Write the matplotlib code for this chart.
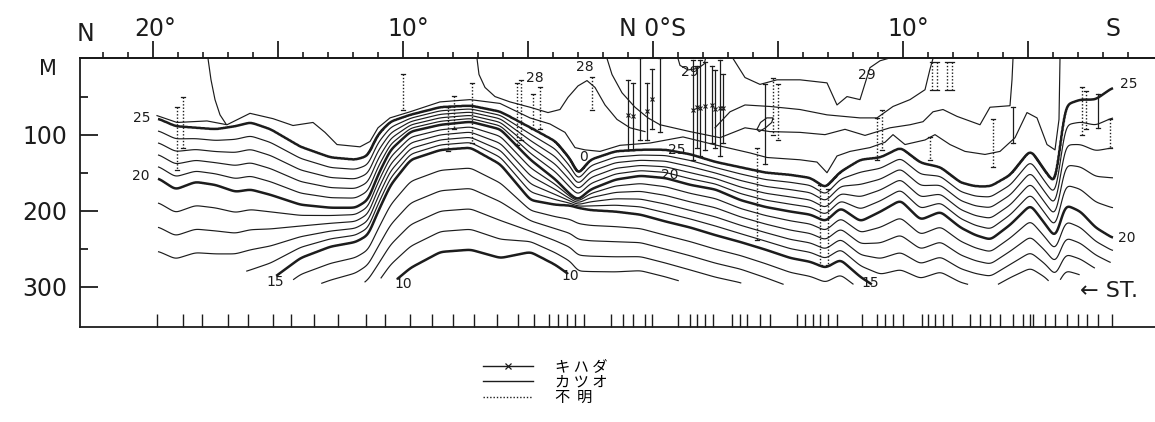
import numpy as np
import matplotlib
matplotlib.use("Agg")
import matplotlib.pyplot as plt
from matplotlib.lines import Line2D
from matplotlib import transforms

plt.rcParams['font.family'] = ['DejaVu Sans', 'Noto Sans CJK JP']

# ---------------- data ----------------
# station grid (latitude, + = N, - = S) and depth (m) of main isotherms
grid_lat = [19.8, 19.1, 18.3, 17.5, 16.7, 16.1, 15.3, 14.1, 12.9, 11.9,
            11.4, 11.0, 10.5, 9.7, 8.5, 7.3, 6.1, 4.9, 3.9, 3.3,
            3.0, 2.5, 1.5, 0.5, -0.5, -1.5, -2.5, -3.5, -4.5, -5.5,
            -6.3, -6.9, -7.5, -8.3, -9.1, -9.9, -10.7, -11.5, -12.3, -12.9,
            -13.5, -14.3, -15.1, -15.7, -16.1, -16.5, -17.1, -17.7, -18.4]
depth_25 = [79, 89, 91, 93, 89, 84, 93, 116, 130, 133,
            128, 100, 83, 74, 64, 62, 70, 91, 109, 133,
            153, 133, 122, 120, 120, 126, 136, 143, 150, 153,
            157, 170, 149, 133, 130, 117, 137, 143, 163, 168,
            168, 153, 120, 149, 166, 61, 54, 54, 38]
depth_20 = [157, 172, 162, 166, 175, 172, 179, 192, 196, 196,
            186, 153, 120, 96, 87, 83, 93, 133, 159, 179,
            186, 172, 159, 154, 157, 166, 172, 186, 195, 201,
            205, 214, 196, 214, 201, 186, 212, 201, 222, 232,
            238, 218, 192, 218, 236, 192, 201, 222, 236]
depth_15 = [317, 324, 317, 317, 311, 304, 291, 262, 247, 241,
            232, 201, 166, 133, 120, 117, 139, 186, 192, 193,
            196, 199, 201, 205, 214, 222, 232, 241, 251, 262,
            267, 275, 264, 287, 304, 300, 308, 300, 312, 316,
            318, 305, 296, 305, 318, 300, 305, 312, 320]
depth_10 = [422, 428, 422, 422, 416, 409, 396, 370, 357, 343,
            330, 317, 297, 275, 254, 251, 262, 254, 271, 285,
            300, 300, 300, 297, 305, 315, 324, 330, 343, 357,
            363, 370, 363, 370, 380, 375, 390, 380, 395, 400,
            405, 395, 385, 395, 405, 390, 395, 405, 415]
cast_depth = [280, 284, 278, 278, 278, 280, 284, 293, 297, 297,
              293, 290, 285, 300, 300, 300, 300, 300, 297, 280,
              282, 282, 284, 286, 291, 293, 293, 295, 297, 297,
              297, 297, 297, 297, 297, 293, 297, 293, 297, 297,
              297, 297, 293, 293, 291, 291, 284, 275, 267]

# upper (warm) isotherms traced individually
iso26_lat = [19.84, 19.04, 17.84, 17.04, 16.12, 15.2, 14.4, 13.6, 13.12, 12.64,
             11.72, 11.32, 11.0, 10.52, 9.72, 8.52, 7.32, 6.12, 4.92, 4.12,
             3.52, 3.12, 2.72, 2.12, 1.32, 0.12, -1.2, -2.56, -3.88, -4.56,
             -5.88, -6.56, -6.96, -7.36, -7.88, -8.68, -9.28, -9.6, -10.08, -10.88,
             -11.28, -11.88, -12.48, -13.28, -13.88, -14.48, -14.96, -15.36, -15.76, -16.08,
             -16.24, -16.28]
iso26_depth = [75, 84, 82, 87, 72, 79, 88, 84, 97, 113,
               116, 109, 91, 78, 70, 57, 54, 59, 78, 86,
               97, 117, 120, 122, 114, 111, 103, 114, 124, 130,
               133, 136, 150, 128, 122, 117, 110, 100, 113, 107,
               100, 113, 122, 126, 122, 104, 71, 78, 113, 120,
               80, 0]
iso27a_lat = [17.8, 17.68, 17.52, 17.32, 17.08]
iso27a_depth = [0, 28, 54, 74, 86]
iso27b_lat = [-0.28, -1.48, -2.68, -3.68, -4.68, -5.88, -6.88, -7.68, -8.48, -9.48,
              -10.28, -10.8, -11.2, -11.6, -12.16, -13.08, -13.48, -14.28, -14.36, -14.4]
iso27b_depth = [87, 96, 104, 91, 96, 97, 100, 93, 101, 91,
                87, 83, 70, 67, 76, 87, 64, 62, 28, 0]
iso27c_lat = [-4.16, -4.3, -4.55, -4.8, -4.75, -4.5, -4.25, -4.16]
iso27c_depth = [93, 84, 78, 78, 84, 91, 96, 93]
iso28a_lat = [7.04, 6.96, 6.72, 6.32, 5.72, 4.92, 4.2, 3.72, 3.4, 3.0,
              2.64, 2.32, 1.92, 1.44, 0.92, 0.32]
iso28a_depth = [0, 21, 38, 50, 57, 64, 71, 67, 51, 36,
                29, 38, 61, 80, 91, 96]
iso28b_lat = [1.84, 1.64, 1.24, 0.72, 0.2, -0.28]
iso28b_depth = [0, 21, 45, 64, 78, 87]
iso28c_lat = [-2.48, -3.08, -3.68, -4.68, -5.88, -6.96, -8.28, -8.96, -9.6, -10.28,
              -10.88, -11.08, -11.2]
iso28c_depth = [91, 70, 61, 63, 67, 74, 78, 78, 63, 54,
                41, 14, 0]
iso29a_lat = [-3.2, -3.68, -4.28, -4.96, -5.88, -6.96, -7.36, -7.76, -8.28, -8.68,
              -9.08, -9.4]
iso29a_depth = [0, 25, 34, 28, 28, 32, 61, 50, 54, 12,
                3, 0]
iso29b_lat = [-1.0, -1.08, -1.4, -1.8, -2.05, -2.1]
iso29b_depth = [0, 9, 15, 13, 7, 0]

# catch-depth markers: K = キハダ, S = カツオ, U = 不明
marker_lat = [19.04, 18.8, 10.0, 8.2, 7.96, 7.24, 5.44, 5.28, 4.8, 4.52,
              2.44, -4.8, -5.0, -8.96, -9.16, -11.16, -11.36, -11.76, -11.96, -11.08,
              -13.6, -17.16, -17.32, -18.28, -4.16, -6.68, -7.0,
              1.0, 0.8, 0.52, 0.24, 0.04, -0.28,
              -4.48, -14.4, -17.8,
              -1.6, -1.76, -1.88, -2.08, -2.36, -2.48, -2.68, -2.8]
marker_top = [64, 50, 21, 64, 49, 32, 32, 28, 47, 37,
              24, 25, 34, 78, 67, 4, 4, 4, 4, 103,
              80, 38, 43, 80, 117, 166, 172,
              28, 32, 0, 32, 14, 0,
              34, 64, 47,
              2, 10, 2, 5, 10, 15, 2, 20]
marker_bottom = [146, 117, 67, 122, 93, 111, 113, 107, 93, 93,
                 67, 100, 107, 133, 120, 41, 41, 41, 41, 133,
                 142, 100, 93, 117, 238, 271, 271,
                 120, 120, 107, 107, 93, 97,
                 139, 111, 91,
                 133, 118, 128, 120, 111, 118, 128, 111]
marker_kind = ['U'] * 27 + ['K', 'K', 'S', 'K', 'K', 'S'] + ['S', 'S', 'S'] + ['K'] * 8

# station positions (bottom ticks)
station_lat = [19.84, 18.8, 18.04, 17.0, 16.2, 15.2, 14.48, 13.56, 12.6, 11.48,
               10.72, 9.72, 8.84, 8.0, 7.16, 6.24, 5.4, 4.76, 4.16, 3.8,
               3.44, 3.12, 2.76, 1.68, 1.2, 0.8, 0.32, 0.04, -1.0, -1.48,
               -1.76, -2.08, -2.4, -3.16, -3.48, -3.76, -4.28, -4.68, -5.76, -6.08,
               -6.4, -6.68, -7.0, -7.36, -8.36, -8.96, -9.28, -9.6, -10.0, -10.76,
               -11.0, -11.28, -11.6, -11.96, -12.68, -13.08, -13.48, -13.88, -14.4, -14.8,
               -15.08, -15.2, -15.68, -16.08, -16.56, -17.0, -17.36, -17.8, -18.36]

lat_major = [20, 15, 10, 5, 0, -5, -10, -15]
top_label_lat = [22.7, 19.9, 9.8, 0.0, -10.2, -18.4]
top_label_text = ['N', '20°', '10°', 'N 0°S', '10°', 'S']
depth_ticks = [100, 200, 300]
depth_labels = ['100', '200', '300']
iso_label_text = ['25', '20', '15', '10', '10', '0', '25', '20', '15', '20', '25', '29', '29', '28', '28']
iso_label_lat = [20.44, 20.48, 15.12, 10.0, 3.32, 2.76, -0.96, -0.68, -8.68, -18.96, -19.04, -1.48, -8.56, 4.72, 2.72]
iso_label_depth = [78, 154, 293, 296, 286, 129, 120, 153, 295, 236, 33, 18, 22, 26, 11]
legend_labels = ['キ ハ ダ', 'カ ツ オ', '不  明']

# ---------------- drawing ----------------
INK = '#1c1c1c'
fig = plt.figure(figsize=(11.55, 4.22), dpi=100)
fig.patch.set_facecolor('white')
ax = fig.add_axes([80 / 1155, 1 - 327 / 422, 1075 / 1155, 268.5 / 422])
ax.set_xlim(22.92, -20.08)
ax.set_ylim(352.6, 0)

# temperature field from isotherm depths -> contours 10..25
lat = np.asarray(grid_lat, float)
order = np.argsort(lat)
xs = np.linspace(lat.min(), lat.max(), 1400)
kern = np.exp(-0.5 * (np.arange(-12, 13) / 4.0) ** 2)
kern /= kern.sum()


def along(v):
    raw = np.interp(xs, lat[order], np.asarray(v, float)[order])
    padded = np.pad(raw, 12, mode='edge')
    return np.convolve(padded, kern, mode='valid')


a25, a20, a15, a10, acast = (along(v) for v in (depth_25, depth_20, depth_15, depth_10, cast_depth))
zs = np.linspace(0, 345, 800)
T = np.empty((zs.size, xs.size))
for j in range(xs.size):
    T[:, j] = np.interp(zs, [0, a25[j], a20[j], a15[j], a10[j], a10[j] + 200],
                        [25.6, 25, 20, 15, 10, 5])
T[zs[:, None] > acast[None, :]] = np.nan
levels = np.arange(10, 26)
ax.contour(xs, zs, T, levels=levels, colors=INK,
           linewidths=[1.8 if l % 5 == 0 else 0.85 for l in levels])

for la, de in [(iso26_lat, iso26_depth), (iso27a_lat, iso27a_depth), (iso27b_lat, iso27b_depth),
               (iso27c_lat, iso27c_depth), (iso28a_lat, iso28a_depth), (iso28b_lat, iso28b_depth),
               (iso28c_lat, iso28c_depth), (iso29a_lat, iso29a_depth), (iso29b_lat, iso29b_depth)]:
    ax.plot(la, de, color=INK, lw=0.85)

cap = 0.07
for x, t, b, k in zip(marker_lat, marker_top, marker_bottom, marker_kind):
    if k == 'U':
        ax.plot([x, x], [t, b], color=INK, lw=1.0, ls=(0, (1, 1.4)))
    else:
        ax.plot([x, x], [t, b], color=INK, lw=0.9)
    ax.plot([x - cap, x + cap], [t, t], color=INK, lw=0.9)
    ax.plot([x - cap, x + cap], [b, b], color=INK, lw=0.9)
    if k == 'K':
        ax.plot([x], [(t + b) / 2], marker='x', ms=3.5, mew=0.8, color=INK)

for s, la, de in zip(iso_label_text, iso_label_lat, iso_label_depth):
    ax.text(la, de, s, ha='center', va='center', fontsize=10, color=INK)

# axes styling
for s in ['left', 'top', 'bottom']:
    ax.spines[s].set_linewidth(1.3)
    ax.spines[s].set_color(INK)
ax.spines['right'].set_visible(False)

ax.set_xticks(station_lat)
ax.set_xticklabels([])
ax.tick_params(axis='x', which='major', direction='in', length=9.5, width=1.0,
               bottom=True, top=False, color=INK)
ax.set_yticks(depth_ticks)
ax.set_yticklabels(depth_labels)
ax.set_yticks([50, 150, 250], minor=True)
ax.tick_params(axis='y', which='major', direction='in', length=13, width=1.3,
               pad=9, labelsize=17, color=INK, labelcolor=INK)
ax.tick_params(axis='y', which='minor', direction='in', length=6, width=1.3, color=INK)

sec = ax.secondary_xaxis('top')
sec.set_xticks(lat_major)
sec.set_xticklabels([])
sec.set_xticks(np.arange(22, -20, -1), minor=True)
sec.tick_params(which='major', direction='out', length=12, width=1.3, color=INK)
sec.tick_params(which='minor', direction='out', length=4, width=1.2, color=INK)
sec.spines['top'].set_linewidth(1.3)

ttop = transforms.blended_transform_factory(ax.transData, ax.transAxes)
for la, s in zip(top_label_lat, top_label_text):
    yb = 1.065 if s == 'N' else 1.084
    ax.text(la, yb, s, transform=ttop, ha='center', va='baseline', fontsize=17, color=INK)

tleft = transforms.blended_transform_factory(ax.transAxes, ax.transData)
ax.text(-0.0298, 14, 'M', transform=tleft, ha='center', va='center', fontsize=15, color=INK)
ax.text(-19.4, 313, '← ST.', ha='right', va='baseline', fontsize=16, color=INK)

handles = [Line2D([], [], color=INK, lw=1.0, marker='x', ms=4, mew=0.9),
           Line2D([], [], color=INK, lw=1.0),
           Line2D([], [], color=INK, lw=1.0, ls=(0, (1, 1.4)))]
fig.legend(handles, legend_labels, loc='upper left', bbox_to_anchor=(483 / 1155, 1 - 358 / 422),
           frameon=False, handlelength=3.3, handletextpad=1.4, labelspacing=-0.1,
           borderpad=0, borderaxespad=0,
           prop={'family': ['Noto Sans CJK JP'], 'size': 11})

fig.savefig('out.png', dpi=100, facecolor='white')
